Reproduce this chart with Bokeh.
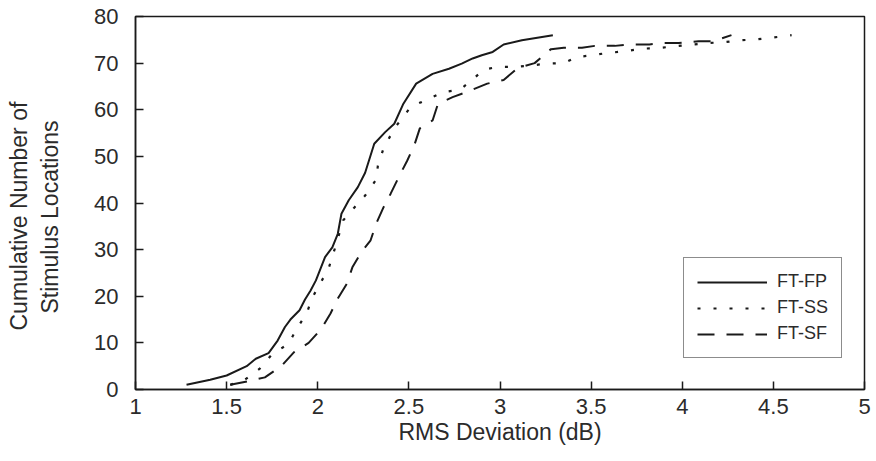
from bokeh.plotting import figure
from bokeh.models import FixedTicker, Legend, LegendItem, Title
from bokeh.embed import file_html
from bokeh.resources import INLINE

# FT-FP (solid)
fp_x = [1.28, 1.41, 1.50, 1.61, 1.66, 1.73, 1.78, 1.82, 1.85, 1.90, 1.93, 1.96, 1.99, 2.04, 2.08,
        2.11, 2.13, 2.17, 2.22, 2.26, 2.31, 2.37, 2.42, 2.47, 2.54, 2.63, 2.72, 2.79, 2.85, 2.90,
        2.96, 3.02, 3.12, 3.29]
fp_y = [1, 2.1, 3, 5, 6.6, 7.8, 10.5, 13.4, 15, 17, 19.3, 21.2, 23.4, 28.4, 30.5,
        33.4, 37.7, 40.6, 43.4, 46.5, 52.7, 55.2, 57, 61.3, 65.6, 67.7, 68.8, 69.9, 71, 71.7,
        72.4, 74, 74.9, 76]

# FT-SS (dotted)
ss_x = [1.52, 1.60, 1.68, 1.75, 1.84, 1.88, 1.94, 1.97, 2.06, 2.10, 2.14, 2.20, 2.26, 2.32, 2.33,
        2.36, 2.42, 2.46, 2.51, 2.60, 2.69, 2.78, 2.85, 2.91, 2.99, 3.08, 3.17, 3.26, 3.35, 3.42,
        3.51, 3.59, 3.68, 3.78, 3.86, 3.96, 4.06, 4.14, 4.23, 4.32, 4.41, 4.50, 4.60]
ss_y = [1, 2.1, 4.4, 7.6, 9.8, 12.7, 16.4, 19.7, 26, 31, 36.3, 39, 41.6, 45, 48,
        51.6, 56, 58, 60.6, 62.2, 63.8, 64.3, 66.5, 68.6, 69.2, 69.2, 69.5, 69.9, 70, 71.3,
        71.7, 72.2, 72.5, 73.1, 73.2, 73.6, 74, 74.3, 74.5, 74.9, 75.1, 75.5, 76]

# FT-SF (dashed)
sf_x = [1.52, 1.62, 1.71, 1.80, 1.87, 1.95, 2.02, 2.07, 2.11, 2.16, 2.19, 2.24, 2.29, 2.32, 2.36,
        2.40, 2.45, 2.49, 2.53, 2.56, 2.63, 2.66, 2.74, 2.83, 2.93, 3.02, 3.10, 3.19, 3.27, 3.28,
        3.35, 3.45, 3.52, 3.63, 3.72, 3.82, 3.89, 3.98, 4.09, 4.17, 4.27]
sf_y = [1, 1.8, 2.6, 5, 8, 10, 13, 16.3, 19.5, 22.7, 26.2, 29.5, 32, 35.5, 39,
        42, 46, 49, 52.4, 56, 57.7, 61.3, 62.7, 64, 65.6, 66.4, 69, 70, 72.7, 73,
        73.3, 73.3, 73.7, 73.7, 74, 74, 74.3, 74.3, 74.7, 74.7, 76]

x_ticks = [1, 1.5, 2, 2.5, 3, 3.5, 4, 4.5, 5]
x_tick_labels = ["1", "1.5", "2", "2.5", "3", "3.5", "4", "4.5", "5"]
y_ticks = [0, 10, 20, 30, 40, 50, 60, 70, 80]
y_label_lines = ["Cumulative Number of", "Stimulus Locations"]

FONT = "Liberation Sans"
INK = "#1a1a1a"
TXT = "#2b2b2b"

p = figure(width=876, height=461, x_range=(1, 5), y_range=(0, 80),
           output_backend="svg", toolbar_location=None,
           min_border_left=135, min_border_right=12, min_border_top=16, min_border_bottom=72)
p.background_fill_color = "white"
p.border_fill_color = "white"
p.grid.visible = False
p.outline_line_color = INK
p.outline_line_width = 1.5
p.outline_line_alpha = 1

for ax in (p.xaxis[0], p.yaxis[0]):
    ax.axis_line_color = INK
    ax.axis_line_width = 1.5
    ax.major_tick_in = 8
    ax.major_tick_out = 0
    ax.major_tick_line_color = INK
    ax.major_tick_line_width = 1.5
    ax.minor_tick_line_color = None
    ax.major_label_text_font = FONT
    ax.major_label_text_font_size = "22px"
    ax.major_label_text_color = TXT
    ax.axis_label_text_font = FONT
    ax.axis_label_text_font_size = "23px"
    ax.axis_label_text_font_style = "normal"
    ax.axis_label_text_color = TXT

p.xaxis.ticker = FixedTicker(ticks=x_ticks)
p.xaxis.major_label_overrides = {t: l for t, l in zip(x_ticks, x_tick_labels)}
p.yaxis.ticker = FixedTicker(ticks=y_ticks)
p.xaxis.axis_label = "RMS Deviation (dB)"
p.xaxis.major_label_standoff = 9
p.xaxis.axis_label_standoff = 2
p.yaxis.major_label_standoff = 17
# blank axis label only reserves a gap between tick labels and the title lines
p.yaxis.axis_label = " "
p.yaxis.axis_label_standoff = 0

# y-axis title as two side titles in the left panel (inner line first)
for txt, stand, off in zip(reversed(y_label_lines), [0, 6], [76, 59]):
    t = Title(text=txt, align="left", offset=off, standoff=stand,
              text_font=FONT, text_font_size="23px", text_font_style="normal",
              text_color=TXT)
    p.add_layout(t, "left")

r_fp = p.line(fp_x, fp_y, line_color=INK, line_width=2)
r_ss = p.line(ss_x, ss_y, line_color=INK, line_width=2.2, line_dash="3 13")
r_sf = p.line(sf_x, sf_y, line_color=INK, line_width=2, line_dash="17 12")

legend = Legend(items=[LegendItem(label="FT-FP", renderers=[r_fp]),
                       LegendItem(label="FT-SS", renderers=[r_ss]),
                       LegendItem(label="FT-SF", renderers=[r_sf])],
                location=(548, 31))
legend.border_line_color = INK
legend.border_line_width = 1.2
legend.background_fill_color = "white"
legend.background_fill_alpha = 1
legend.label_text_font = FONT
legend.label_text_font_size = "18px"
legend.label_text_color = TXT
legend.glyph_width = 70
legend.glyph_height = 20
legend.label_height = 20
legend.spacing = 5
legend.padding = 13
legend.margin = 0
legend.label_standoff = 10
p.add_layout(legend, "center")

open("out.html", "w").write(file_html(p, INLINE))
